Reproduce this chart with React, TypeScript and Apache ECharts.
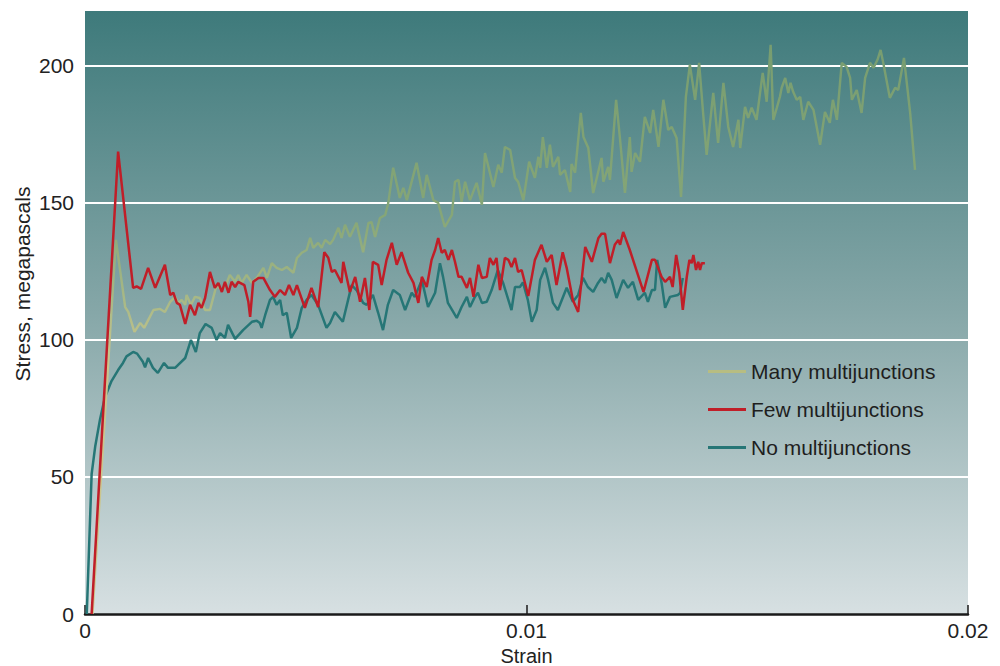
import React, { useEffect, useRef } from "react";
import * as echarts from "echarts";

const seriesNames = ["Many multijunctions", "Few multijunctions", "No multijunctions"];
const yTicks = [0, 50, 100, 150, 200];
const xTicks = [0, 0.01, 0.02];

const manyMulti: [number, number][] = [
  [0.00017, 0], [0.0007, 136.5], [0.00091, 112], [0.00098, 110.2], [0.00112, 102.9], [0.00125, 106.2],
  [0.00134, 104.4], [0.00155, 110.9], [0.0017, 111.3], [0.00181, 110.2], [0.00193, 113.9], [0.00204, 115.7],
  [0.00211, 113.5], [0.00219, 114.6], [0.00227, 112.8], [0.0023, 116.4], [0.0024, 112.8], [0.00249, 115.7],
  [0.0026, 115.3], [0.00272, 110.9], [0.00283, 110.9], [0.00298, 120], [0.0031, 118.2], [0.00321, 120.8],
  [0.00328, 123.7], [0.0034, 121.2], [0.00347, 123.7], [0.00355, 120.8], [0.00366, 123.7], [0.00378, 120.8],
  [0.00389, 122.6], [0.00404, 126.3], [0.00412, 122.6], [0.00423, 128], [0.00434, 126.3], [0.00446, 125.5],
  [0.00457, 126.6], [0.00472, 124.5], [0.0048, 129.9], [0.00491, 131.8], [0.00502, 132.8], [0.0051, 137.2],
  [0.00517, 133.6], [0.00528, 135.4], [0.00536, 133.6], [0.00544, 136.5], [0.00555, 135], [0.00562, 136.5],
  [0.00574, 140.9], [0.00581, 137.2], [0.00589, 142], [0.006, 137.6], [0.00615, 142.7], [0.0063, 132],
  [0.00642, 142.7], [0.00649, 143], [0.00657, 137.6], [0.00668, 144.5], [0.0068, 145.6], [0.00687, 150],
  [0.00698, 162.8], [0.00713, 151.8], [0.00721, 155.5], [0.00729, 151], [0.00751, 164.6], [0.00766, 151.8],
  [0.00774, 160.2], [0.00789, 151], [0.008, 150], [0.00815, 141.2], [0.00831, 145.6], [0.00838, 157.7],
  [0.00846, 158.4], [0.00853, 150.4], [0.00861, 157.7], [0.00872, 151], [0.00887, 157.3], [0.00899, 149.3],
  [0.00906, 168.2], [0.00925, 155.8], [0.00936, 163.9], [0.00944, 161], [0.00951, 170.4], [0.00963, 169.3],
  [0.00974, 159.1], [0.00981, 157.7], [0.00993, 151], [0.01006, 165], [0.01019, 159.1], [0.01027, 166.8],
  [0.01031, 162.8], [0.01037, 174], [0.01046, 162.8], [0.01053, 171.2], [0.0106, 163.1], [0.01072, 166.8],
  [0.01076, 160.2], [0.01087, 162], [0.01099, 154], [0.01102, 164.2], [0.0111, 161], [0.01123, 182.8],
  [0.01129, 174], [0.0114, 170], [0.01151, 153.6], [0.0117, 166.4], [0.01174, 157.7], [0.01185, 163.1],
  [0.01189, 158.4], [0.01203, 187.6], [0.01212, 173], [0.01223, 153.6], [0.01234, 174], [0.01238, 161.3],
  [0.01246, 168.2], [0.01257, 165], [0.01268, 181.4], [0.0128, 175.5], [0.01287, 183.9], [0.01299, 170.4],
  [0.0131, 187.6], [0.01321, 176.6], [0.01329, 177.7], [0.0134, 173.7], [0.0135, 152.2], [0.01361, 188.7],
  [0.0137, 200.4], [0.01382, 187.6], [0.01391, 201.1], [0.014, 182.8], [0.01408, 167.5], [0.01423, 190.1],
  [0.01434, 171.9], [0.01446, 193.8], [0.01457, 177.7], [0.01468, 170.4], [0.0148, 180.3], [0.01484, 170],
  [0.01495, 185], [0.01502, 181], [0.0151, 184.7], [0.01521, 180.3], [0.01535, 197.4], [0.01544, 186.9],
  [0.01553, 207.7], [0.01559, 180.3], [0.01567, 184.7], [0.01574, 188.7], [0.01578, 192], [0.01586, 195.6],
  [0.01593, 190.1], [0.01598, 193.8], [0.01604, 190.5], [0.01612, 187.6], [0.0162, 188.7], [0.01627, 180.3],
  [0.01638, 186.9], [0.0165, 183.9], [0.01665, 171.2], [0.01676, 183.2], [0.01687, 179.2], [0.01694, 187.6],
  [0.01703, 180.3], [0.01714, 201.1], [0.01725, 199.6], [0.01733, 195.6], [0.01737, 187.6], [0.01748, 191.2],
  [0.01759, 182.8], [0.01767, 195.6], [0.01778, 201.1], [0.01786, 199.3], [0.01795, 202.2], [0.01802, 205.8],
  [0.01808, 201.1], [0.01823, 188.3], [0.01835, 192], [0.01842, 191.2], [0.01855, 202.9], [0.01869, 182.8],
  [0.0188, 162],
];

const fewMulti: [number, number][] = [
  [0.00015, 0], [0.00075, 168.7], [0.00109, 119], [0.00117, 119.5], [0.00127, 118.6], [0.00143, 126.3],
  [0.00159, 119], [0.00181, 127.4], [0.00193, 116.4], [0.002, 117.2], [0.00208, 113.5], [0.00215, 112.8],
  [0.00227, 105.8], [0.00238, 112.8], [0.00249, 109], [0.00257, 113.5], [0.00264, 111.7], [0.00272, 115.3],
  [0.00283, 124.8], [0.00294, 119], [0.00302, 120.8], [0.0031, 117.5], [0.00317, 121.2], [0.00325, 117.2],
  [0.00332, 121.2], [0.0034, 119.3], [0.00347, 121.2], [0.00361, 120], [0.0037, 113.9], [0.00374, 108.4],
  [0.00381, 121.2], [0.00393, 122.6], [0.00404, 122.6], [0.00419, 118.2], [0.0043, 115.7], [0.00442, 118.2],
  [0.00453, 116.4], [0.00462, 120], [0.00472, 116.4], [0.0048, 120], [0.00498, 111.7], [0.00513, 119],
  [0.00528, 112], [0.00542, 132], [0.00551, 130], [0.00559, 124.8], [0.00566, 125.5], [0.00581, 120.8],
  [0.00585, 128.5], [0.006, 117.5], [0.00612, 123], [0.00623, 113.9], [0.00634, 122.6], [0.00644, 110.9],
  [0.00652, 128.5], [0.00664, 127.4], [0.00672, 120], [0.00683, 129.2], [0.00695, 135.4], [0.00706, 127.4],
  [0.00717, 132], [0.00732, 124.5], [0.00744, 120.8], [0.00755, 113.5], [0.00763, 123], [0.00774, 119.3],
  [0.00785, 129.2], [0.00793, 132.8], [0.008, 137.2], [0.00808, 131.8], [0.00815, 132.8], [0.00823, 129.2],
  [0.00831, 132.8], [0.00838, 128.5], [0.00846, 123], [0.00853, 123], [0.00865, 119], [0.00872, 122.6],
  [0.0088, 115.7], [0.00891, 127.4], [0.00899, 122.6], [0.0091, 123], [0.00917, 129.9], [0.00925, 127.4],
  [0.00932, 129.9], [0.0094, 118.2], [0.00951, 129.9], [0.00959, 129.2], [0.00966, 126.6], [0.00974, 129.9],
  [0.00981, 124.8], [0.00989, 125.5], [0.01004, 116], [0.01019, 129.2], [0.01034, 134.7], [0.01046, 128.5],
  [0.01057, 131], [0.01068, 120], [0.01082, 132], [0.01091, 126.3], [0.01105, 114.6], [0.01117, 110.2],
  [0.01133, 133.9], [0.01148, 128.5], [0.01163, 137.2], [0.0117, 138.7], [0.01178, 138.7], [0.01189, 128],
  [0.012, 134.7], [0.01208, 136.5], [0.01212, 134.7], [0.01219, 139.4], [0.01234, 132.8], [0.01265, 117.5],
  [0.01284, 129.2], [0.01291, 129.2], [0.01306, 123], [0.01314, 121.2], [0.01325, 123], [0.01331, 119.3],
  [0.01339, 131], [0.01346, 124.5], [0.01354, 111], [0.01363, 123], [0.01369, 129.2], [0.01374, 128],
  [0.01378, 131], [0.01384, 125.5], [0.01389, 128.5], [0.01393, 125.5], [0.01397, 128], [0.01404, 128],
];

const noMulti: [number, number][] = [
  [0.00004, 0], [0.00015, 51], [0.00023, 61], [0.00034, 71], [0.00045, 79], [0.0006, 85],
  [0.00075, 89], [0.00086, 91.6], [0.00094, 94], [0.00109, 95.6], [0.00118, 95], [0.00131, 92],
  [0.00136, 90], [0.00143, 93.4], [0.00154, 89.8], [0.00165, 88], [0.00179, 91.6], [0.00188, 89.8],
  [0.00204, 89.8], [0.00227, 93.4], [0.0024, 100], [0.00251, 95.6], [0.0026, 102.5], [0.00273, 105.8],
  [0.00287, 104.4], [0.00298, 100], [0.00306, 102.5], [0.00317, 100.7], [0.00324, 105.5], [0.0034, 100.4],
  [0.00358, 103.6], [0.00378, 106.6], [0.00389, 107], [0.00396, 106.2], [0.004, 104.4], [0.00408, 109],
  [0.00419, 114.6], [0.00426, 115.7], [0.00434, 112.8], [0.00442, 114.6], [0.00448, 109], [0.00457, 109.9],
  [0.00467, 100.7], [0.0048, 104.4], [0.00491, 111.7], [0.00502, 114.6], [0.00513, 116.4], [0.00528, 112.8],
  [0.00547, 104.4], [0.00555, 106.2], [0.00566, 110.2], [0.00584, 106.6], [0.00604, 120], [0.00615, 118.2],
  [0.0063, 113.5], [0.00638, 112.8], [0.00652, 116.4], [0.00664, 109.9], [0.00675, 103.6], [0.00686, 112.8],
  [0.00698, 118.2], [0.00713, 116.4], [0.00725, 110.9], [0.0074, 117.2], [0.00747, 115.7], [0.00763, 121.9],
  [0.00777, 112], [0.00793, 117.2], [0.00804, 128], [0.00811, 123], [0.00822, 113.5], [0.00842, 108],
  [0.00853, 112], [0.00865, 115.7], [0.00872, 112], [0.00883, 115.7], [0.0089, 117.2], [0.00899, 113.5],
  [0.0091, 113.9], [0.00921, 118.2], [0.00935, 125.5], [0.00947, 120.8], [0.00966, 110.9], [0.00974, 119.3],
  [0.00985, 119.3], [0.00992, 121], [0.01003, 114.6], [0.01012, 106.6], [0.01023, 110.9], [0.01031, 121.9],
  [0.01042, 126.3], [0.01049, 121.9], [0.0106, 113.5], [0.01071, 110.9], [0.01091, 119], [0.01105, 113.9],
  [0.01117, 116.4], [0.01128, 122.6], [0.01139, 119.3], [0.01151, 117.5], [0.01162, 120.8], [0.0117, 122.6],
  [0.01178, 120.8], [0.01185, 124.5], [0.01193, 121.9], [0.01204, 115.3], [0.01219, 121.9], [0.0123, 119],
  [0.01241, 121.2], [0.01253, 114.6], [0.01268, 117.2], [0.01275, 113.9], [0.01284, 118.2], [0.01291, 118.2],
  [0.01296, 129.2], [0.01306, 120.8], [0.01314, 111.7], [0.01325, 115.7], [0.01343, 116.4], [0.01348, 117.2],
  [0.01354, 122.6],
];

export default function App() {
  const ref = useRef<HTMLDivElement>(null);
  useEffect(() => {
    if (!ref.current) return;
    document.body.style.margin = "0";
    document.body.style.overflow = "hidden";
    const chart = echarts.init(ref.current, undefined, { renderer: "svg", width: 1000, height: 666 });
    const font = "Liberation Sans";
    chart.setOption({
      animation: false,
      backgroundColor: "#ffffff",
      grid: {
        left: 85,
        right: 32,
        top: 11,
        bottom: 52,
        outerBoundsMode: "none",
        containLabel: false,
        show: true,
        borderWidth: 0,
        backgroundColor: {
          type: "linear", x: 0, y: 0, x2: 0, y2: 1,
          colorStops: [
            { offset: 0, color: "#3e7a7b" },
            { offset: 0.5, color: "#86a7a8" },
            { offset: 1, color: "#d7e0e2" },
          ],
        },
      },
      legend: {
        data: seriesNames,
        orient: "vertical",
        left: 703,
        top: 355,
        itemWidth: 38,
        itemHeight: 3,
        itemGap: 15,
        icon: "rect",
        textStyle: { fontFamily: font, fontSize: 21, color: "#1e1e1e", lineHeight: 23 },
      },
      xAxis: {
        type: "value",
        min: xTicks[0],
        max: xTicks[xTicks.length - 1],
        interval: 0.01,
        name: "Strain",
        nameLocation: "middle",
        nameGap: 26,
        nameTextStyle: { fontFamily: font, fontSize: 20, color: "#222", lineHeight: 20 },
        axisLine: { show: true, lineStyle: { color: "#1a1a1a", width: 2.5 } },
        axisTick: { show: true, inside: true, length: 9, lineStyle: { color: "#1a1a1a", width: 1.5 } },
        axisLabel: { fontFamily: font, fontSize: 21, color: "#222", margin: 6, formatter: (v: number) => String(v) },
        splitLine: { show: false },
      },
      yAxis: {
        type: "value",
        min: 0,
        max: 220,
        interval: 50,
        axisLine: { show: false },
        axisTick: { show: false },
        axisLabel: {
          fontFamily: font, fontSize: 21, color: "#222", margin: 11,
          formatter: (v: number) => (yTicks.includes(v) ? String(v) : ""),
        },
        splitLine: {
          show: true,
          lineStyle: { color: ["rgba(0,0,0,0)", "#ffffff", "#ffffff", "#ffffff", "#ffffff", "rgba(0,0,0,0)"], width: 1.8 },
        },
      },
      graphic: [
        {
          type: "text",
          x: 22,
          y: 284,
          rotation: Math.PI / 2,
          style: {
            text: "Stress, megapascals",
            font: `21px ${font}`,
            fill: "#222",
            textAlign: "center",
            textVerticalAlign: "middle",
          },
        },
      ],
      series: [
        {
          name: seriesNames[2],
          type: "line",
          data: noMulti,
          showSymbol: false,
          symbol: "none",
          itemStyle: { color: "#267676" },
          lineStyle: { color: "#267676", width: 2.5 },
          z: 2,
        },
        {
          name: seriesNames[0],
          type: "line",
          data: manyMulti,
          showSymbol: false,
          symbol: "none",
          itemStyle: { color: "#b7bd82" },
          lineStyle: {
            width: 2.4,
            color: {
              type: "linear", x: 0, y: 0, x2: 0, y2: 1,
              colorStops: [
                { offset: 0, color: "#789d70" },
                { offset: 0.3, color: "#86a677" },
                { offset: 0.45, color: "#a9b986" },
                { offset: 0.55, color: "#c8c58d" },
                { offset: 1, color: "#cdc68d" },
              ],
            },
          },
          z: 3,
        },
        {
          name: seriesNames[1],
          type: "line",
          data: fewMulti,
          showSymbol: false,
          symbol: "none",
          itemStyle: { color: "#c01e28" },
          lineStyle: { color: "#c01e28", width: 2.5 },
          z: 4,
        },
      ],
    });
    return () => chart.dispose();
  }, []);
  return <div ref={ref} style={{ position: "absolute", left: 0, top: 0, width: 1000, height: 666 }} />;
}
